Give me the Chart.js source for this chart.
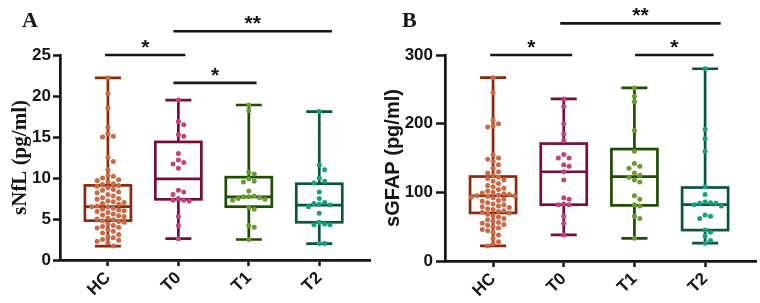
<!DOCTYPE html>
<html>
<head>
<meta charset="utf-8">
<script src="https://cdn.jsdelivr.net/npm/chart.js@4.4.1/dist/chart.umd.min.js"></script>
<style>
  html, body { margin: 0; padding: 0; background: #fff; }
  .wrap { display: flex; width: 760px; height: 303px; }
  .panel { position: relative; width: 380px; height: 303px; }
</style>
</head>
<body>
<div class="wrap">
  <div class="panel"><canvas id="nflChart" width="380" height="303"></canvas></div>
  <div class="panel"><canvas id="gfapChart" width="380" height="303"></canvas></div>
</div>
<script>
const groups = ['HC', 'T0', 'T1', 'T2'];

// Panel A - sNfL (pg/ml), individual values per group
const nflHC = [22.2, 20.3, 18.5, 16.2, 15.4, 15.1, 15.0, 12.5, 12.0, 11.0, 10.3, 10.2, 10.0, 9.8, 9.7,
    9.5, 9.3, 9.2, 9.1, 9.0, 8.8, 8.6, 8.5, 8.3, 8.2, 8.0, 7.8, 7.6, 7.5, 7.4, 7.2, 7.1, 7.0, 6.9,
    6.8, 6.6, 6.5, 6.5, 6.3, 6.2, 6.1, 6.0, 5.9, 5.8, 5.6, 5.5, 5.4, 5.3, 5.1, 5.0, 4.9, 4.8, 4.7,
    4.6, 4.4, 4.2, 4.1, 4.0, 3.9, 3.7, 3.5, 3.3, 3.1, 2.8, 2.7, 2.5, 2.4, 2.3, 2.1, 1.7];
const nflT0 = [19.5, 16.9, 16.5, 15.3, 15.1, 13.0, 12.2, 11.9, 11.7, 11.2, 8.5, 8.3, 8.0, 7.5, 7.3, 7.3, 7.2, 5.3, 4.2, 2.6];
const nflT1 = [18.9, 18.2, 10.7, 10.5, 9.9, 9.6, 9.5, 8.4, 7.8, 7.7, 7.7, 7.6, 7.5, 7.4, 7.3, 6.4, 6.2, 4.2, 4.0, 2.5];
const nflT2 = [18.1, 11.6, 11.0, 10.0, 9.6, 9.4, 8.3, 7.5, 7.0, 6.9, 6.8, 6.7, 6.5, 5.7, 4.6, 4.4, 4.3, 4.3, 2.0, 2.0];
const nflMin = [1.7, 2.6, 2.5, 2.0];
const nflQ1 = [4.8, 7.4, 6.5, 4.6];
const nflMedian = [6.5, 9.9, 7.7, 6.7];
const nflQ3 = [9.1, 14.4, 10.1, 9.3];
const nflMax = [22.2, 19.5, 18.9, 18.1];
// significance bars: [from, to, level, label]
const nflSig = [[0.96, 2.10, 25.0, '*'], [1.93, 4.18, 27.9, '**'], [1.93, 3.11, 21.6, '*']];

// Panel B - sGFAP (pg/ml)
const gfapHC = [267, 245, 205, 200, 197, 195, 155, 150, 148, 145, 140, 135, 130, 128, 125, 122, 120,
    118, 116, 113, 110, 108, 106, 104, 102, 100, 99, 98, 97, 96, 95, 95, 94, 93, 92, 90, 88, 87, 85,
    83, 82, 80, 79, 78, 76, 75, 73, 72, 71, 70, 68, 66, 64, 62, 60, 58, 56, 55, 53, 52, 50, 48, 46,
    44, 42, 38, 33, 28, 25, 22];
const gfapT0 = [236, 225, 200, 185, 175, 155, 150, 150, 140, 138, 130, 118, 92, 90, 83, 82, 82, 65, 55, 38];
const gfapT1 = [252, 240, 232, 190, 160, 142, 138, 135, 128, 125, 122, 118, 115, 95, 90, 82, 80, 65, 62, 33];
const gfapT2 = [280, 192, 178, 160, 108, 97, 86, 85, 84, 84, 82, 80, 67, 65, 62, 45, 42, 36, 30, 26];
const gfapMin = [22, 38, 33, 26];
const gfapQ1 = [70, 82, 81, 45];
const gfapMedian = [95, 130, 123, 82];
const gfapQ3 = [123, 171, 163, 107];
const gfapMax = [267, 236, 252, 280];
const gfapSig = [[0.96, 2.12, 300, '*'], [1.95, 4.22, 346, '**'], [3.01, 4.12, 300, '*']];

const boxColors = ['#8b2a0b', '#780d3d', '#1e4d00', '#0a5444'];
const dotColors = ['#cc6944', '#c4437a', '#6b9a2e', '#17a07e'];
const ink = '#151515';

// simple beeswarm so dots don't sit on top of each other
function swarm(values, center, pxPerY) {
    const gap = 5.4, pxPerX = 70.6;
    const placed = [];
    return values.map(v => {
        const py = v * pxPerY;
        let dx = 0;
        for (let k = 0; k < 60; k++) {
            const cand = k === 0 ? 0 : (k % 2 ? 1 : -1) * Math.ceil(k / 2) * gap;
            if (placed.every(p => Math.hypot(p.x - cand, p.y - py) >= gap - 0.01)) { dx = cand; break; }
        }
        placed.push({ x: dx, y: py });
        return { x: center + dx / pxPerX, y: v };
    });
}

function boxPlugin(stats, sig, letter) {
    return {
        id: 'boxPlot',
        beforeDatasetsDraw(chart) {
            const { ctx, scales: { x, y } } = chart;
            ctx.save();
            ctx.lineWidth = 2.7;
            groups.forEach((g, i) => {
                const cx = x.getPixelForValue(i + 1);
                const yMin = y.getPixelForValue(stats.min[i]);
                const yQ1 = y.getPixelForValue(stats.q1[i]);
                const yMed = y.getPixelForValue(stats.med[i]);
                const yQ3 = y.getPixelForValue(stats.q3[i]);
                const yMax = y.getPixelForValue(stats.max[i]);
                const half = 23, cap = 13;
                ctx.strokeStyle = boxColors[i];
                ctx.beginPath();
                ctx.moveTo(cx, yMax); ctx.lineTo(cx, yQ3);
                ctx.moveTo(cx, yQ1); ctx.lineTo(cx, yMin);
                ctx.moveTo(cx - cap, yMax); ctx.lineTo(cx + cap, yMax);
                ctx.moveTo(cx - cap, yMin); ctx.lineTo(cx + cap, yMin);
                ctx.stroke();
                ctx.fillStyle = '#fff';
                ctx.fillRect(cx - half, yQ3, half * 2, yQ1 - yQ3);
                ctx.strokeRect(cx - half, yQ3, half * 2, yQ1 - yQ3);
                ctx.beginPath();
                ctx.moveTo(cx - half, yMed); ctx.lineTo(cx + half, yMed);
                ctx.stroke();
            });
            ctx.restore();
        },
        afterDraw(chart) {
            const { ctx, scales: { x, y } } = chart;
            ctx.save();
            ctx.strokeStyle = ink;
            ctx.fillStyle = ink;
            ctx.lineWidth = 2.6;
            ctx.textAlign = 'center';
            ctx.textBaseline = 'alphabetic';
            ctx.font = 'bold 21px "Liberation Sans", Arial, sans-serif';
            sig.forEach(([a, b, lvl, label]) => {
                const x1 = x.getPixelForValue(a), x2 = x.getPixelForValue(b);
                const py = y.getPixelForValue(lvl);
                ctx.beginPath();
                ctx.moveTo(x1, py); ctx.lineTo(x2, py);
                ctx.stroke();
                ctx.fillText(label, (x1 + x2) / 2, py - 1);
            });
            ctx.textAlign = 'left';
            ctx.font = 'bold 22px "Liberation Serif", "Times New Roman", serif';
            ctx.fillText(letter, 22, 27);
            ctx.restore();
        }
    };
}

function makePanel(id, cfg) {
    const datasets = cfg.values.map((vals, i) => ({
        data: swarm(vals, i + 1, cfg.pxPerY),
        pointRadius: 2.5,
        pointBackgroundColor: dotColors[i],
        pointBorderWidth: 0
    }));
    const tickFont = { family: "'Liberation Sans', Arial, sans-serif", size: 17, weight: 'bold' };
    return new Chart(document.getElementById(id), {
        type: 'scatter',
        data: { datasets },
        options: {
            responsive: false,
            devicePixelRatio: 1,
            animation: false,
            layout: { padding: { top: 55, right: cfg.padRight, left: 0, bottom: 0 } },
            plugins: { legend: { display: false }, tooltip: { enabled: false } },
            scales: {
                x: {
                    type: 'linear',
                    min: 0.32,
                    max: 4.72,
                    afterBuildTicks: s => { s.ticks = groups.map((g, i) => ({ value: i + 1 })); },
                    afterFit: s => { s.height = cfg.xHeight; },
                    ticks: {
                        autoSkip: false,
                        minRotation: 45,
                        maxRotation: 45,
                        padding: 2,
                        color: ink,
                        font: tickFont,
                        callback: v => groups[v - 1]
                    },
                    grid: { drawOnChartArea: false, tickLength: 6, tickWidth: 2.5, tickColor: ink },
                    border: { color: ink, width: 2.7 }
                },
                y: {
                    min: 0,
                    max: cfg.yMax,
                    afterFit: s => { s.width = cfg.yWidth; },
                    ticks: {
                        stepSize: cfg.step,
                        padding: cfg.tickPad,
                        color: ink,
                        font: tickFont
                    },
                    grid: { drawOnChartArea: false, tickLength: cfg.tickLen, tickWidth: 2.5, tickColor: ink },
                    border: { color: ink, width: 2.7 },
                    title: {
                        display: true,
                        text: cfg.title,
                        color: ink,
                        font: cfg.titleFont,
                        padding: { top: cfg.titlePad, bottom: 0 }
                    }
                }
            }
        },
        plugins: [boxPlugin(cfg.stats, cfg.sig, cfg.letter)]
    });
}

makePanel('nflChart', {
    values: [nflHC, nflT0, nflT1, nflT2],
    stats: { min: nflMin, q1: nflQ1, med: nflMedian, q3: nflQ3, max: nflMax },
    sig: nflSig,
    letter: 'A',
    title: 'sNfL (pg/ml)',
    titleFont: { family: "'Liberation Serif', 'Times New Roman', serif", size: 21, weight: 'bold' },
    titlePad: 8,
    yMax: 25, step: 5, pxPerY: 205 / 25,
    yWidth: 60, tickLen: 7, tickPad: 2,
    xHeight: 43, padRight: 10
});

makePanel('gfapChart', {
    values: [gfapHC, gfapT0, gfapT1, gfapT2],
    stats: { min: gfapMin, q1: gfapQ1, med: gfapMedian, q3: gfapQ3, max: gfapMax },
    sig: gfapSig,
    letter: 'B',
    title: 'sGFAP (pg/ml)',
    titleFont: { family: "'Liberation Sans', Arial, sans-serif", size: 20, weight: 'bold' },
    titlePad: 1,
    yMax: 300, step: 100, pxPerY: 206 / 300,
    yWidth: 65, tickLen: 9, tickPad: 3,
    xHeight: 42, padRight: 3
});
</script>
</body>
</html>
